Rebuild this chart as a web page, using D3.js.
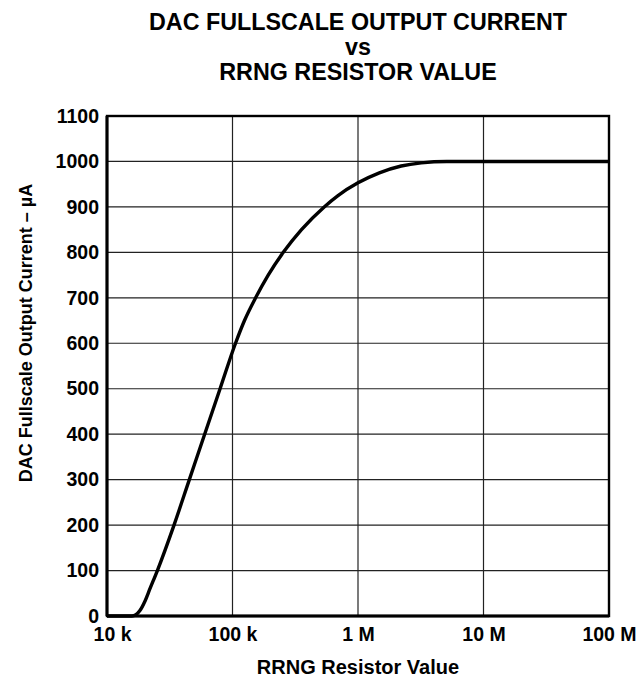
<!DOCTYPE html>
<html>
<head>
<meta charset="utf-8">
<script src="https://cdn.jsdelivr.net/npm/d3@7"></script>
<style>
  html, body { margin: 0; padding: 0; background: #fff; }
  svg { display: block; font-family: "Liberation Sans", Arial, sans-serif; font-weight: bold; }
</style>
</head>
<body>
<svg id="chart" width="642" height="677"></svg>
<script>
// Resistor value (ohms) and fullscale output current (µA) along the curve
const resistance = [10000, 15800, 17000, 18300, 20100, 22000, 25200, 34200, 45300, 60000, 79600,
                    105700, 124600, 152800, 192500, 254000, 354600, 537900, 692800, 1000000,
                    1480000, 2210000, 3190000, 5100000, 10000000, 30000000, 100000000];
const current    = [0, 0, 3, 12, 33, 60, 100, 200, 300, 400, 500,
                    600, 650, 700, 750, 800, 850, 900, 925, 953,
                    975, 990, 997, 1000, 1000, 1000, 1000];

const xTickValues = [1e4, 1e5, 1e6, 1e7, 1e8];
const xTickLabels = ["10 k", "100 k", "1 M", "10 M", "100 M"];
const yTickValues = [0, 100, 200, 300, 400, 500, 600, 700, 800, 900, 1000, 1100];

const titleLines = ["DAC FULLSCALE OUTPUT CURRENT", "vs", "RRNG RESISTOR VALUE"];
const xTitle = "RRNG Resistor Value";
const yTitle = "DAC Fullscale Output Current – µA";

const margin = { left: 107, right: 33, top: 116, bottom: 61 };
const W = 642, H = 677;
const plotW = W - margin.left - margin.right;
const plotH = H - margin.top - margin.bottom;

const svg = d3.select("#chart");
const g = svg.append("g").attr("transform", `translate(${margin.left},${margin.top})`);

const x = d3.scaleLog().domain([1e4, 1e8]).range([0, plotW]);
const y = d3.scaleLinear().domain([0, 1100]).range([plotH, 0]);

// grid
g.append("g")
  .selectAll("line")
  .data(xTickValues.slice(1, -1))
  .join("line")
  .attr("x1", d => x(d)).attr("x2", d => x(d))
  .attr("y1", 0).attr("y2", plotH)
  .attr("stroke", "#222").attr("stroke-width", 1.2);

g.append("g")
  .selectAll("line")
  .data(yTickValues.slice(1, -1))
  .join("line")
  .attr("x1", 0).attr("x2", plotW)
  .attr("y1", d => y(d)).attr("y2", d => y(d))
  .attr("stroke", "#222").attr("stroke-width", 1.2);

// frame
g.append("rect")
  .attr("x", 0).attr("y", 0).attr("width", plotW).attr("height", plotH)
  .attr("fill", "none").attr("stroke", "#000").attr("stroke-width", 2.4);
g.append("line").attr("x1", 0).attr("x2", 0).attr("y1", 0).attr("y2", plotH)
  .attr("stroke", "#000").attr("stroke-width", 3);
g.append("line").attr("x1", 0).attr("x2", plotW).attr("y1", plotH).attr("y2", plotH)
  .attr("stroke", "#000").attr("stroke-width", 3);

// axes (labels only)
const xAxis = d3.axisBottom(x).tickValues(xTickValues)
  .tickFormat((d, i) => xTickLabels[i]).tickSize(0).tickPadding(11);
const gx = g.append("g").attr("transform", `translate(0,${plotH})`).call(xAxis);
gx.select(".domain").remove();
gx.selectAll("text").attr("font-size", 19.5).attr("font-weight", "bold")
  .attr("font-family", "Liberation Sans, Arial, sans-serif").attr("fill", "#000");
gx.selectAll(".tick").filter((d, i) => i === 0).select("text").attr("dx", 5);

const yAxis = d3.axisLeft(y).tickValues(yTickValues).tickFormat(d3.format("d"))
  .tickSize(0).tickPadding(8);
const gy = g.append("g").call(yAxis);
gy.select(".domain").remove();
gy.selectAll("text").attr("font-size", 19.5).attr("font-weight", "bold")
  .attr("font-family", "Liberation Sans, Arial, sans-serif").attr("fill", "#000");

// curve
const pts = resistance.map((r, i) => [r, current[i]]);
const line = d3.line()
  .x(d => x(d[0])).y(d => y(d[1]))
  .curve(d3.curveMonotoneX);
g.append("path").datum(pts)
  .attr("d", line)
  .attr("fill", "none").attr("stroke", "#000")
  .attr("stroke-width", 3.4).attr("stroke-linejoin", "round");

// titles
const cx = margin.left + plotW / 2;
svg.append("g").selectAll("text")
  .data(titleLines)
  .join("text")
  .attr("x", cx).attr("y", (d, i) => 30 + i * 25)
  .attr("text-anchor", "middle").attr("font-size", 23.3).text(d => d);

svg.append("text")
  .attr("x", cx).attr("y", 674)
  .attr("text-anchor", "middle").attr("font-size", 20).text(xTitle);

svg.append("text")
  .attr("transform", `translate(32,333) rotate(-90)`)
  .attr("text-anchor", "middle").attr("font-size", 18).text(yTitle);
</script>
</body>
</html>
